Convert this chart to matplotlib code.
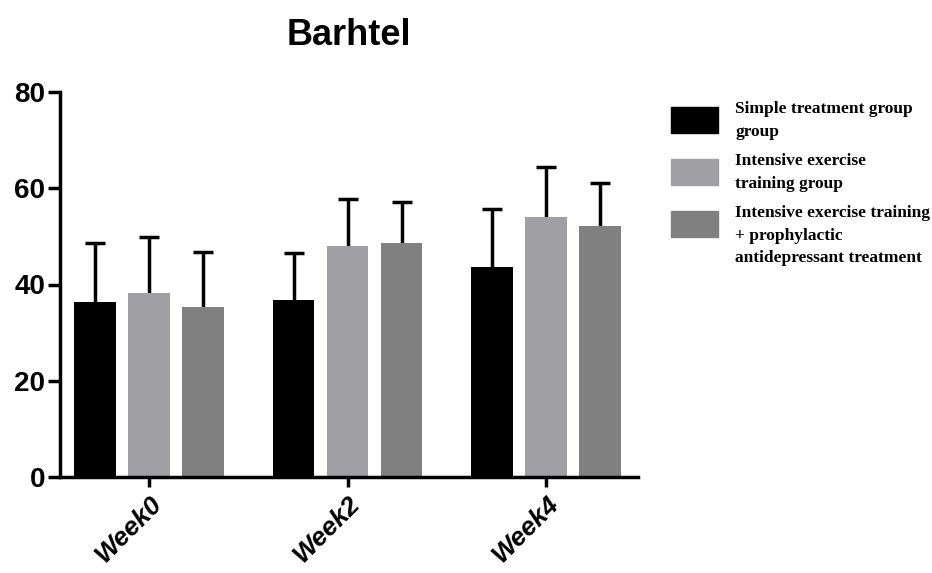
import matplotlib
matplotlib.use("Agg")
import matplotlib.pyplot as plt
import numpy as np
from matplotlib.patches import Rectangle

plt.rcParams["font.family"] = ["Liberation Sans", "DejaVu Sans"]

weeks = ["Week0", "Week2", "Week4"]
groups = [
    "Simple treatment group\ngroup",
    "Intensive exercise\ntraining group",
    "Intensive exercise training\n+ prophylactic\nantidepressant treatment",
]
colors = ["#000000", "#a0a0a4", "#808080"]

means_simple = [36.3, 36.8, 43.7]
means_intensive = [38.2, 48.0, 54.1]
means_combined = [35.4, 48.6, 52.2]
sd_simple = [12.4, 9.8, 12.0]
sd_intensive = [11.7, 9.7, 10.4]
sd_combined = [11.3, 8.5, 8.8]

means = [means_simple, means_intensive, means_combined]
sds = [sd_simple, sd_intensive, sd_combined]

W, H = 932, 573
fig = plt.figure(figsize=(W / 100, H / 100), dpi=100)
ax = fig.add_axes([60 / W, (H - 477) / H, (638 - 60) / W, (477 - 92) / H])

x = np.arange(len(weeks))
width = 0.21
offsets = [-0.272, 0, 0.272]
for m, s, c, off in zip(means, sds, colors, offsets):
    ax.bar(x + off, m, width, color=c, zorder=2)
    _, caps, _ = ax.errorbar(x + off, m, yerr=[np.zeros(len(s)), s], fmt="none",
                             ecolor="black", elinewidth=2.5, capsize=7, capthick=2.5, zorder=1)
    caps[0].set_visible(False)  # only the upper cap

ax.set_xlim(-0.448, 2.463)
ax.set_ylim(0, 80)
ax.set_yticks([0, 20, 40, 60, 80])
ax.set_xticks(x)
ax.set_xticklabels(weeks, rotation=45, ha="right", va="top", rotation_mode="anchor",
                   fontsize=19, fontweight="bold", fontstyle="italic")
for lab in ax.get_yticklabels():
    lab.set_fontsize(20)
    lab.set_fontweight("bold")

for side in ["top", "right"]:
    ax.spines[side].set_visible(False)
for side in ["left", "bottom"]:
    ax.spines[side].set_linewidth(2.5)
ax.tick_params(axis="y", length=8.5, width=2.5, pad=2)
ax.tick_params(axis="x", length=7.5, width=2.5, pad=3)

ax.set_title("Barhtel", fontsize=26, fontweight="bold", pad=34)

# legend drawn by hand in figure pixels
patch_tops = [107, 159, 211]
for c, lab, top in zip(colors, groups, patch_tops):
    fig.add_artist(Rectangle((671 / W, (H - top - 26) / H), 47 / W, 26 / H,
                             transform=fig.transFigure, color=c))
    fig.text(735 / W, (H - top + 6) / H, lab, ha="left", va="top",
             family=["Liberation Serif"], fontweight="bold", fontsize=12.5,
             linespacing=1.55)

fig.savefig("out.png", dpi=100)
